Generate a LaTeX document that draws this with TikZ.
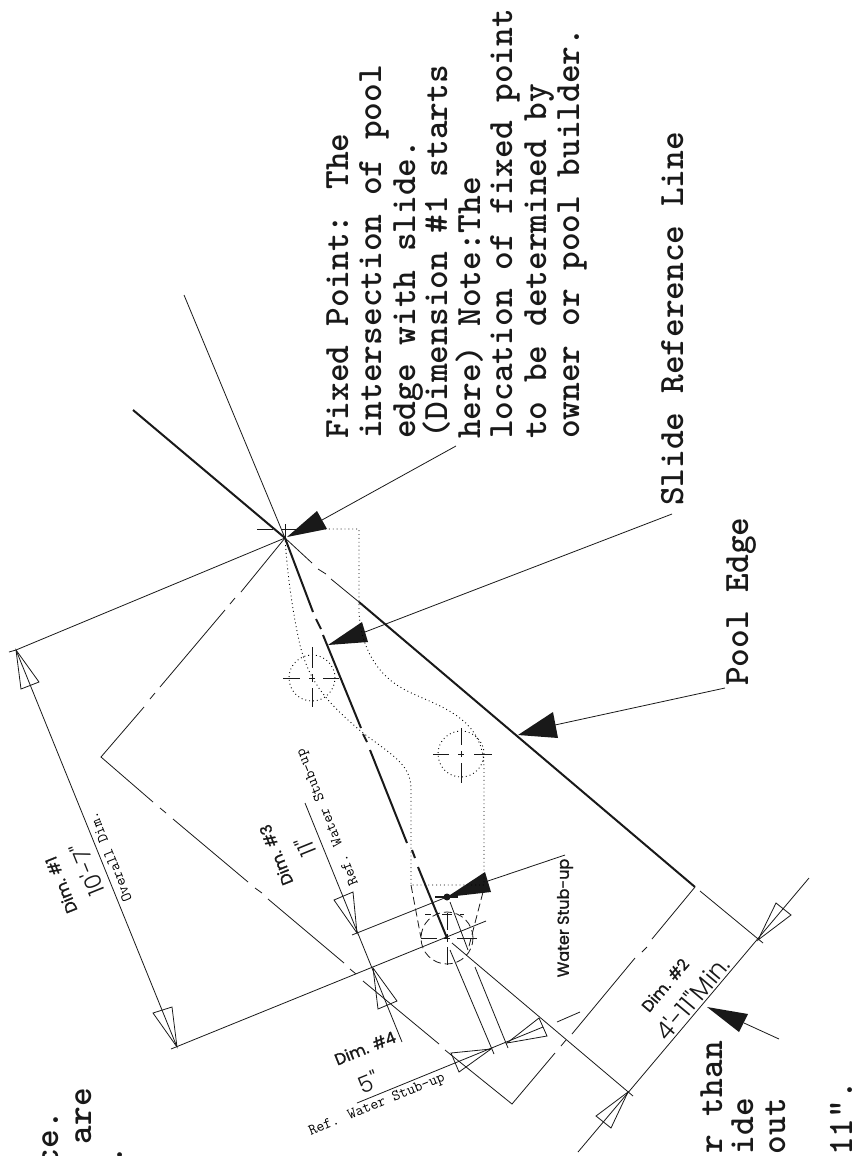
\documentclass[tikz,border=0pt]{standalone}
\usepackage{fontspec}
\newfontfamily\gothf[FakeBold=1.3]{Poppins}
\newfontfamily\gothl{Poppins Light}
\tikzset{
 thinl/.style={line width=0.8pt,black!90},
 thickl/.style={line width=2pt,black!90},
 dotl/.style={line width=0.9pt,black,dash pattern=on 0.9pt off 3pt},
 dashl/.style={line width=0.8pt,black!90,dash pattern=on 8pt off 4pt},
 openhead/.style={line width=0.8pt,black!90},
 blackhead/.style={fill=black!90,draw=none},
 bigtext/.style={inner sep=0pt,font=\ttfamily\bfseries\fontsize{35.6}{35.6}\selectfont,rotate=90,text=black!90},
 smalltext/.style={inner sep=0pt,font=\ttfamily\fontsize{15.4}{15.4}\selectfont,text=black},
 dimtext/.style={inner sep=0pt,font=\gothf\fontsize{16}{16}\selectfont,text=black!90},
 numtext/.style={inner sep=0pt,font=\gothl\fontsize{23}{23}\selectfont,text=black!90},
}
\begin{document}
\begin{tikzpicture}[x=1pt,y=-1pt]
\useasboundingbox (0,0) rectangle (853,1156);
\clip (0,0) rectangle (853,1156);
% key points
\coordinate (F) at (285,538);
\coordinate (W) at (447,897);
\coordinate (C) at (447,938);
\coordinate (D1a) at (16,650);
\coordinate (D1b) at (177,1047);
\coordinate (D2a) at (758,940);
\coordinate (D2b) at (628,1092);
% big text
\node[bigtext,anchor=base west] (t1) at (348,439) {Fixed Point: The};
\node[bigtext,anchor=base west] (t2) at (381,439) {intersection of pool};
\node[bigtext,anchor=base west] (t3) at (415,439) {edge with slide.};
\node[bigtext,anchor=base west] (t4) at (447,439) {(Dimension \#1 starts};
\node[bigtext,anchor=base west] (t5) at (480,439) {here) Note:The};
\node[bigtext,anchor=base west] (t6) at (512,439) {location of fixed point};
\node[bigtext,anchor=base west] (t7) at (546,439) {to be determined by};
\node[bigtext,anchor=base west] (t8) at (579,439) {owner or pool builder.};
\node[bigtext,anchor=base west] (srl) at (683,506) {Slide Reference Line};
\node[bigtext,anchor=base west] (pe) at (748,686) {Pool Edge};
\node[bigtext,anchor=base east] (b1) at (58,1111) {ce.};
\node[bigtext,anchor=base east] (b2) at (91,1088) {are};
\node[bigtext,anchor=base east] (b3) at (122,1146) {.};
\node[bigtext,anchor=base east] (b4) at (722,1041) {r than};
\node[bigtext,anchor=base east] (b5) at (753,1098) {ide};
\node[bigtext,anchor=base east] (b6) at (785,1098) {out};
\node[bigtext,anchor=base east] (b7) at (852,1081) {11".};
% pool edge
\draw[thickl] (133,410) -- (F);
\draw[thinl] (F) -- (312,563) (318,569) -- (326,574) (331,579) -- (359,602);
\draw[thickl] (359,602) -- (695,887);
% slide reference line
\draw[thickl] (F) -- (313,612) (316,619) -- (321,629) (323,635) -- (361,728) (363,734) -- (367,742) (370,750) -- (407,843) (412,850) -- (415,858) (418,867) -- (C);
% thin lines at fixed point
\draw[thinl] (184,295) -- (F);
\draw[thinl] (9,652) -- (D1a) -- (F);
% envelope
\draw[thinl] (F) -- (241,592) (235,598) -- (230,604) (225,610) -- (160,687) (155,693) -- (150,699) (144,707) -- (101,757)
 -- (153,802) (160,808) -- (166,813) (173,819) -- (248,882) (255,888) -- (262,893) (268,899) -- (344,963) (350,969) -- (356,974) (363,981) -- (439,1044) (445,1050) -- (512,1104)
 -- (555,1053) (561,1046) -- (566,1040) (572,1034) -- (635,958) (642,952) -- (647,947) (652,939) -- (695,887);
% dim 1
\draw[thinl] (D1a) -- (D1b);
\draw[openhead] (D1a) -- (21,689) -- (39,682) -- cycle;
\draw[openhead] (D1b) -- (153,1013) -- (172,1007) -- cycle;
\draw[thinl] (171,1049) -- (486,921);
% dim 3 / water stub extension
\draw[thinl] (352,935) -- (W);
\draw[thinl] (485,882) -- (565,855);
\draw[thinl] (305,803) -- (402,1042);
\draw[openhead] (357,933) -- (334,900) -- (353,892) -- cycle;
\draw[openhead] (373,968) -- (378,1009) -- (397,1001) -- cycle;
% dim 2
\draw[thinl] (578,1152) -- (809,878);
\draw[openhead] (D2a) -- (776,903) -- (791,915) -- cycle;
\draw[openhead] (D2b) -- (596,1116) -- (611,1128) -- cycle;
\draw[thinl] (700,891) -- (763,943);
\draw[thinl] (452,943) -- (633,1096);
% dim 4
\draw[thinl] (450,950) -- (494,1054);
\draw[thinl] (450,902) -- (468,950) (475,967) -- (508,1048);
\draw[thinl] (357,1103) -- (543,1027) (557,1022) -- (580,1012);
\draw[openhead] (507,1043) -- (539,1018) -- (547,1036) -- cycle;
\draw[openhead] (491,1049) -- (451,1053) -- (459,1072) -- cycle;
% dim 2 leader
\fill[blackhead] (707,1007) -- (748,1014) -- (739,1032) -- cycle;
\draw[thinl] (744,1023) -- (779,1039);
% fixed point leader
\fill[blackhead] (287,537) -- (317,511) -- (327,529) -- cycle;
\draw[thinl] (322,520) -- (456,446);
% slide ref leader
\fill[blackhead] (328,645) -- (362,622) -- (368,642) -- cycle;
\draw[thinl] (365,632) -- (672,514);
% pool edge leader
\fill[blackhead] (518,735) -- (553,712) -- (558,738) -- cycle;
\draw[thinl] (555,725) -- (725,688);
% water leader
\fill[blackhead] (W) -- (485,872) -- (491,892) -- cycle;
\draw[line width=2pt,black!90] (435,897) -- (458,897);
\fill[black!90] (W) circle (3.5pt);
% dotted outline
\draw[dotl] (325,529) -- (359,529) -- (359,613) .. controls (361,645) and (375,672) .. (400,687) .. controls (430,705) and (483,712) .. (484,767) -- (484,885) -- (411,885) -- (411,790) .. controls (411,765) and (395,757) .. (363,733) .. controls (330,705) and (310,685) .. (300,645) .. controls (292,610) and (287,570) .. (F);
\draw[dotl] (312,678) circle (23pt);
\draw[dotl] (461,754) circle (23pt);
% centrelines
\draw[thinl] (283,678) -- (300,678) (309,678) -- (315,678) (323,678) -- (339,678) (312,647) -- (312,668) (312,674) -- (312,682) (312,688) -- (312,707);
\draw[thinl] (433,754) -- (449,754) (458,754) -- (464,754) (474,754) -- (492,754) (461,728) -- (461,745) (461,751) -- (461,757) (461,763) -- (461,783);
\draw[thinl] (257,529) -- (273,529) (282,529) -- (297,529) (285,524) -- (285,538);
% water centre
\draw[dashl] (C) circle (26pt);
\draw[thinl] (421,938) -- (437,938) (444,938) -- (450,938) (457,938) -- (477,938) (447,913) -- (447,930) (447,934) -- (447,942) (447,947) -- (447,965);
\draw[dashl] (411,885) -- (421,938);
\draw[dashl] (483,892) -- (468,950);
\draw[thinl] (425,914) -- (431,914) (442,914) -- (452,914) (460,914) -- (464,914);
% labels
\node[dimtext,rotate=112] (d1) at (61,885) {Dim. \#1};
\node[numtext,rotate=112] (n1) at (87,870) {10'-7"};
\node[smalltext,rotate=112] (o1) at (110,857) {Overall Dim.};
\node[dimtext,rotate=112] (d3) at (276,855) {Dim. \#3};
\node[numtext,rotate=112] (n3) at (305,847) {11"};
\node[smalltext,rotate=112] (r3) at (328,817) {Ref. Water Stub-up};
\node[dimtext,rotate=22] (d4) at (365,1048) {Dim. \#4};
\node[numtext,rotate=22] (n4) at (368,1082) {5"};
\node[smalltext,rotate=22] (r4) at (377,1105) {Ref. Water Stub-up};
\node[dimtext,rotate=90] (ws) at (565,918) {Water Stub-up};
\node[dimtext,rotate=50] (d2) at (665,985) {Dim. \#2};
\node[numtext,rotate=50,font=\gothl\fontsize{25}{25}\selectfont] (n2) at (692,998) {4'-11"Min.};
\end{tikzpicture}
\end{document}
